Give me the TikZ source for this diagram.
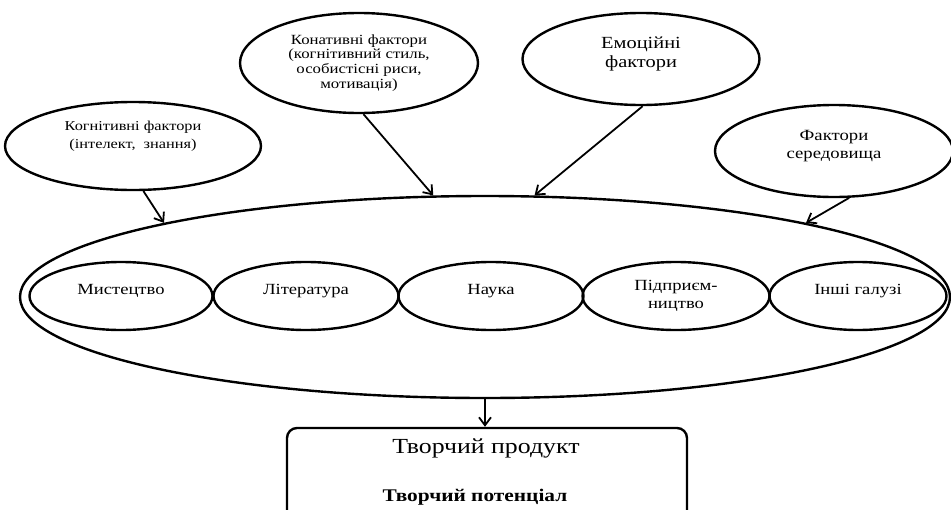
\documentclass[tikz,border=0pt]{standalone}
\usepackage{fontspec}
\setmainfont{Liberation Serif}[FakeStretch=1.2]
\usetikzlibrary{shapes.geometric,arrows.meta}

\tikzset{factor/.style={draw, ellipse, line width=2.4pt, inner sep=0pt, align=center}}
\tikzset{field/.style={draw, ellipse, line width=2.4pt, inner sep=0pt, align=center, minimum height=68pt, font=\fontsize{15.5}{18}\selectfont}}
\tikzset{link/.style={line width=1.8pt, -{Straight Barb[length=8pt,width=12pt,line width=1.8pt]}}}

\begin{document}
\begin{tikzpicture}[x=1pt, y=-1pt]
  \useasboundingbox (0,0) rectangle (951,509);
  % Factors
  \node[factor, minimum width=256pt, minimum height=88pt, font=\fontsize{13.6}{18}\selectfont] (Cognitive) at (133,146) {Когнітивні фактори\\(інтелект,\ \ знання)\\[4pt]};
  \node[factor, minimum width=238pt, minimum height=100pt, font=\fontsize{14}{14.8}\selectfont] (Conative) at (359,63) {Конативні фактори\\(когнітивний стиль,\\особистісні риси,\\мотивація)};
  \node[factor, minimum width=237pt, minimum height=92pt, font=\fontsize{17}{19}\selectfont] (Emotional) at (641,59) {Емоційні\\фактори\\[-6pt]};
  \node[factor, minimum width=238pt, minimum height=92pt, font=\fontsize{15.6}{18}\selectfont] (Environment) at (834,151) {Фактори\\середовища\\[-4pt]};

  % Fields
  \node[draw, ellipse, line width=2.4pt, minimum width=930pt, minimum height=202pt] (Creativity) at (485,297) {};
  \node[field, minimum width=183pt] (Art) at (121,296) {Мистецтво\\[-4pt]};
  \node[field, minimum width=185pt] (Literature) at (306,296) {Література\\[-4pt]};
  \node[field, minimum width=185pt] (Science) at (491,296) {Наука\\[-4pt]};
  \node[field, minimum width=187pt] (Business) at (676,296) {Підприєм-\\ництво};
  \node[field, minimum width=177pt] (Other) at (858,296) {Інші галузі\\[-4pt]};

  % Result
  \node[draw, line width=2.4pt, rounded corners=10pt, minimum width=400pt, minimum height=100pt] (Product) at (487,478) {};
  \node[font=\fontsize{21.5}{24}\selectfont] (ProductText) at (486,448) {Творчий продукт};
  \node[font=\bfseries\fontsize{17.8}{22}\selectfont] (Potential) at (475,497) {Творчий потенціал};

  \draw[link] (Cognitive.-77) to (Creativity.167);
  \draw[link] (Conative.-85) to (Creativity.117);
  \draw[link] (Emotional.-88) to (Creativity.64);
  \draw[link] (Environment.-72) to (Creativity.13.5);
  \draw[link] (Creativity.south) to (Creativity.south |- Product.north);
\end{tikzpicture}
\end{document}
